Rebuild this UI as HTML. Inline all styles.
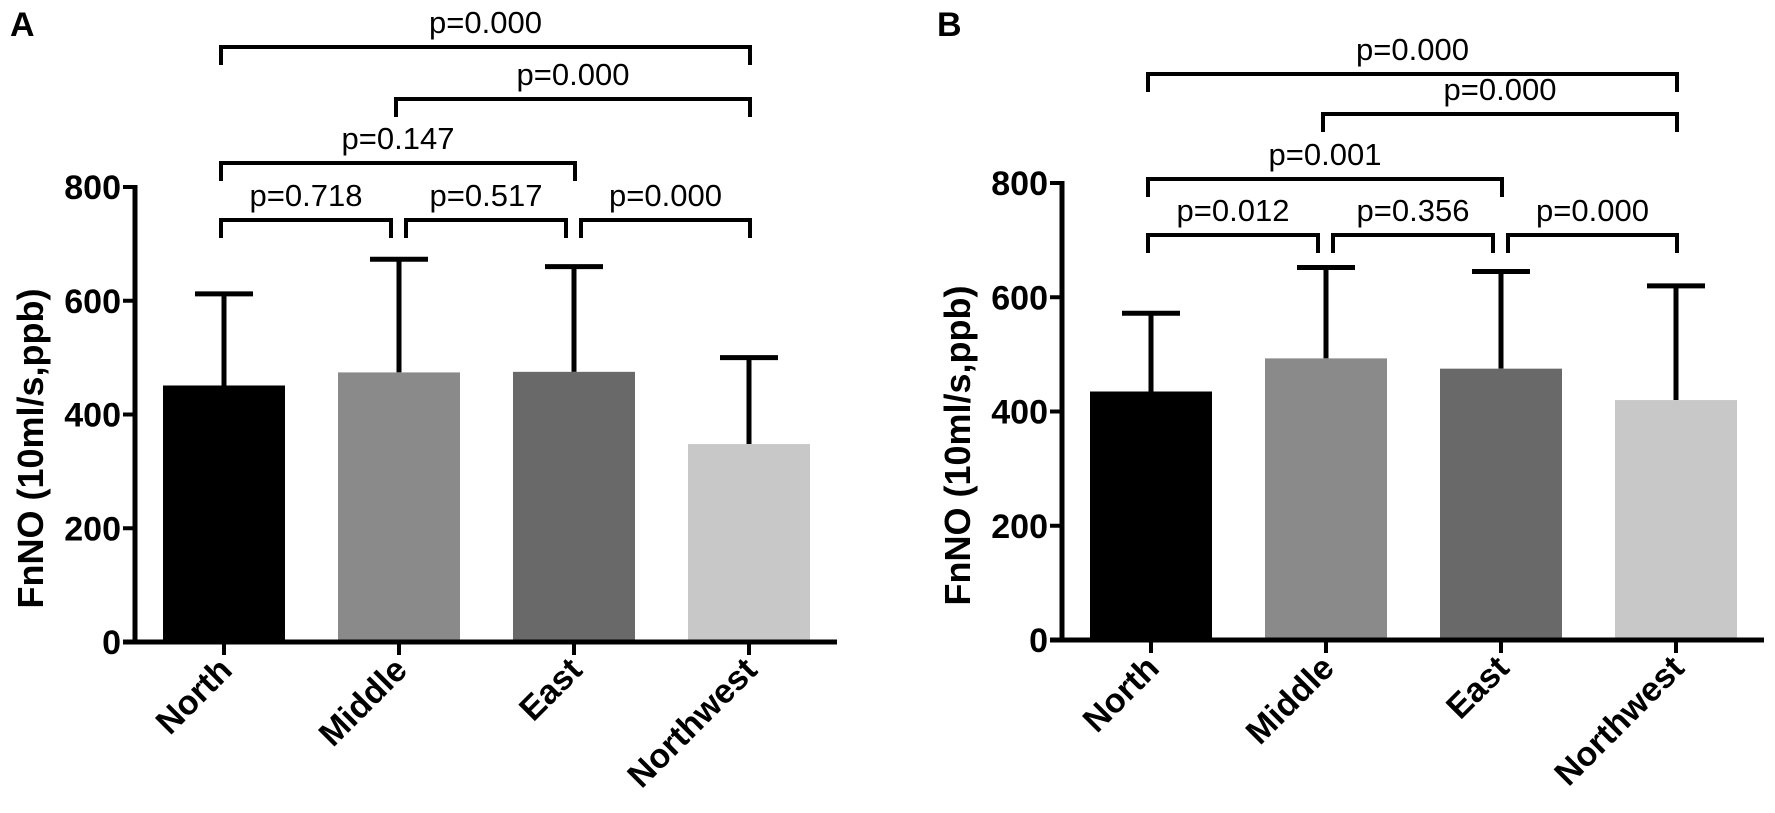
<!DOCTYPE html>
<html><head><meta charset="utf-8"><style>
html,body{margin:0;padding:0;background:#fff;}
svg{display:block;font-family:"Liberation Sans",Arial,sans-serif;}
</style></head><body>
<svg id="chart" width="1775" height="813" viewBox="0 0 1775 813"></svg>
<script>
const categories = ["North","Middle","East","Northwest"];
const meansA = [451, 474, 475, 348];
const errA = [612, 673, 660, 500];
const meansB = [435, 493, 475, 420];
const errB = [572, 652, 645, 620];
const yTicks = [0, 200, 400, 600, 800];
const colors = ["#000000","#8a8a8a","#696969","#c8c8c8"];
const compA = [[0,3,"p=0.000"],[1,3,"p=0.000"],[0,2,"p=0.147"],[0,1,"p=0.718"],[1,2,"p=0.517"],[2,3,"p=0.000"]];
const compB = [[0,3,"p=0.000"],[1,3,"p=0.000"],[0,2,"p=0.001"],[0,1,"p=0.012"],[1,2,"p=0.356"],[2,3,"p=0.000"]];

const NS="http://www.w3.org/2000/svg";
const svg=document.getElementById('chart');
function mk(tag, attrs, parent){const e=document.createElementNS(NS,tag);for(const k in attrs)e.setAttribute(k,attrs[k]);(parent||svg).appendChild(e);return e;}

function panel(letter, ox, y800, y0, means, errs, comps, levels){
  const g=mk('g',{});
  
  
  const axisX=ox, xEnd=ox+702;
  const y=v=>y0-(y0-y800)*v/800;
  const cx=i=>axisX+89+175*i;
  const lt=mk('text',{x:ox-125,y:36,'font-size':34,'font-weight':'bold'},g);lt.textContent=letter;
  
  
  means.forEach((m,i)=>{
    const e=mk('line',{x1:cx(i),x2:cx(i),y1:y(m),y2:y(errs[i]),stroke:'#000','stroke-width':5},g);
    
    
    const c=mk('line',{x1:cx(i)-29,x2:cx(i)+29,y1:y(errs[i]),y2:y(errs[i]),stroke:'#000','stroke-width':5},g);
    
    
    const r=mk('rect',{x:cx(i)-61,y:y(m),width:122,height:y0-y(m),fill:colors[i]},g);
    
    
  });
  const ya=mk('line',{x1:axisX,x2:axisX,y1:y800-2,y2:y0+2,stroke:'#000','stroke-width':5},g);
  
  
  const xa=mk('line',{x1:axisX-12,x2:xEnd,y1:y0,y2:y0,stroke:'#000','stroke-width':5},g);
  
  
  yTicks.forEach(t=>{
    mk('line',{x1:axisX-12,x2:axisX,y1:y(t),y2:y(t),stroke:'#000','stroke-width':4},g);
    const tx=mk('text',{x:axisX-14,y:y(t)+12,'font-size':34,'font-weight':'bold','text-anchor':'end'},g);
    tx.textContent=t;
    
    
  });
  categories.forEach((c,i)=>{
    mk('line',{x1:cx(i),x2:cx(i),y1:y0,y2:y0+13,stroke:'#000','stroke-width':4},g);
    const tx=mk('text',{x:cx(i)+10,y:y0+30,'font-size':34,'font-weight':'bold','text-anchor':'end',transform:`rotate(-45 ${cx(i)+10} ${y0+30})`},g);
    tx.textContent=c;
    
    
  });
  const yt=mk('text',{x:0,y:0,'font-size':36,'font-weight':'bold','text-anchor':'middle',transform:`translate(${ox-92},${(y800+y0)/2+34}) rotate(-90)`},g);
  yt.textContent='FnNO (10ml/s,ppb)';
  
  
  comps.forEach((cp,k)=>{
    const ly=levels[k];
    let x1=cx(cp[0])-3, x2=cx(cp[1])+1;
    if(k>=3){ if(cp[0]>0)x1=cx(cp[0])+7; if(cp[1]<3)x2=cx(cp[1])-8; }
    const p=mk('path',{d:`M${x1},${ly+18}V${ly}H${x2}V${ly+18}`,fill:'none',stroke:'#000','stroke-width':4},g);
    
    
    const t=mk('text',{x:(x1+x2)/2,y:ly-14,'font-size':31,'text-anchor':'middle'},g);
    t.textContent=cp[2];
    
    
  });
}
panel('A',135,187,642,meansA,errA,compA,[47,99,163,220,220,220]);
panel('B',1062,183,640,meansB,errB,compB,[74,114,179,235,235,235]);
</script>
</body></html>
